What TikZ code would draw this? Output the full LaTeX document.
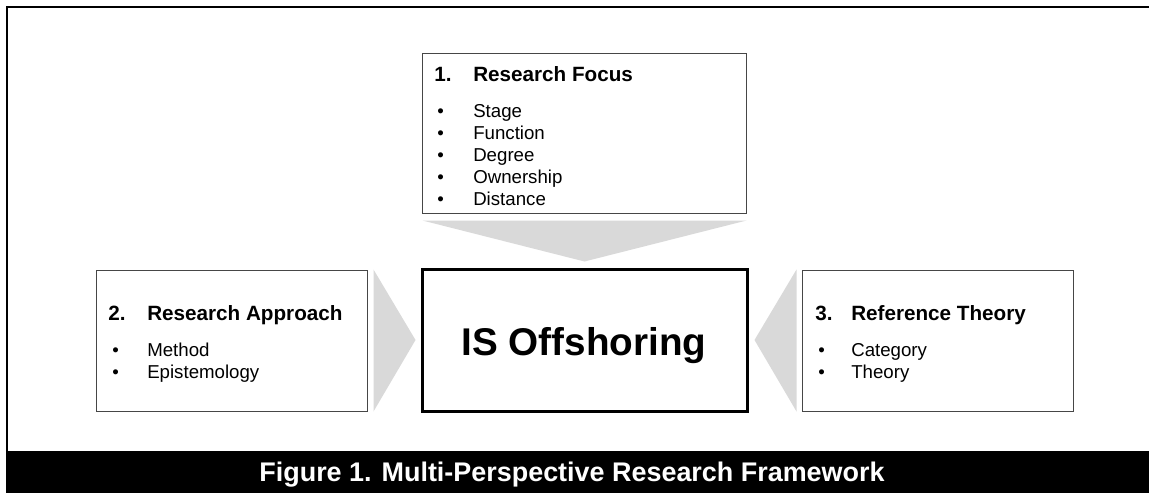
\documentclass[tikz,border=0pt]{standalone}
\usepackage{fontspec}
\setmainfont{Liberation Sans}
\usetikzlibrary{calc}
\definecolor{chevgray}{RGB}{217,217,217}
\definecolor{boxline}{RGB}{70,70,70}
\begin{document}
\begin{tikzpicture}[x=0.75pt,y=-0.75pt,
  sidebox/.style={draw=boxline,line width=0.75pt,fill=white,rectangle,inner sep=0pt},
  corebox/.style={draw=black,line width=2.25pt,fill=white,rectangle,inner sep=0pt},
  chev/.style={fill=chevgray},
  headtxt/.style={anchor=base west,inner sep=0pt,font=\fontsize{15.5}{18}\selectfont\bfseries},
  itemtxt/.style={anchor=base west,inner sep=0pt,font=\fontsize{14}{16}\selectfont},
  coretxt/.style={anchor=base,inner sep=0pt,font=\fontsize{29}{34}\selectfont\bfseries},
  captxt/.style={anchor=base,inner sep=0pt,text=white,font=\fontsize{20.2}{24}\selectfont\bfseries}]
\useasboundingbox (0,0) rectangle (1149,493);
\fill[white] (0,0) rectangle (1149,493);

% outer frame and caption bar
\draw[line width=1.5pt] (1149,7) -- (7,7) -- (7,452);
\fill[black] (6,451) rectangle (1149,493);
\node[captxt] (caption) at (572,481) {Figure 1. Multi-Perspective Research Framework};

% boxes
\node[sidebox,minimum width=243pt,minimum height=120pt] (focusbox) at (584,133) {};
\node[corebox,minimum width=243.75pt,minimum height=106.5pt] (core) at (584.5,340) {};
\node[sidebox,minimum width=203.25pt,minimum height=105.75pt] (approachbox) at (231.5,340.5) {};
\node[sidebox,minimum width=203.25pt,minimum height=105.75pt] (theorybox) at (937.5,340.5) {};

% chevrons pointing into the core box
\fill[chev] ($(focusbox.south west)+(1,7)$) -- ($(focusbox.south east)+(0,7)$) -- ($(core.north)+(0,-6)$) -- cycle;
\fill[chev] ($(approachbox.north east)+(6,0)$) -- ($(approachbox.south east)+(6,0)$) -- ($(core.west)+(-5,0)$) -- cycle;
\fill[chev] ($(theorybox.north west)+(-5,0)$) -- ($(theorybox.south west)+(-5,0)$) -- ($(core.east)+(6,0)$) -- cycle;

% core label
\node[coretxt] (coretitle) at (584,355) {IS Offshoring};

% 1. Research Focus
\node[headtxt] (fnum) at (434,81) {1.};
\node[headtxt] (ftitle) at (473,81) {Research Focus};
\foreach \t [count=\i] in {Stage,Function,Degree,Ownership,Distance}{
  \node[itemtxt] (fb\i) at (437,{95+22*\i}) {•};
  \node[itemtxt] (fi\i) at (473,{95+22*\i}) {\t};
}

% 2. Research Approach
\node[headtxt] (anum) at (108,320) {2.};
\node[headtxt] (atitle) at (147,320) {Research Approach};
\foreach \t [count=\i] in {Method,Epistemology}{
  \node[itemtxt] (ab\i) at (112,{334+22*\i}) {•};
  \node[itemtxt] (ai\i) at (147,{334+22*\i}) {\t};
}

% 3. Reference Theory
\node[headtxt] (tnum) at (815,320) {3.};
\node[headtxt] (ttitle) at (851,320) {Reference Theory};
\foreach \t [count=\i] in {Category,Theory}{
  \node[itemtxt] (tb\i) at (818,{334+22*\i}) {•};
  \node[itemtxt] (ti\i) at (851,{334+22*\i}) {\t};
}
\end{tikzpicture}
\end{document}
